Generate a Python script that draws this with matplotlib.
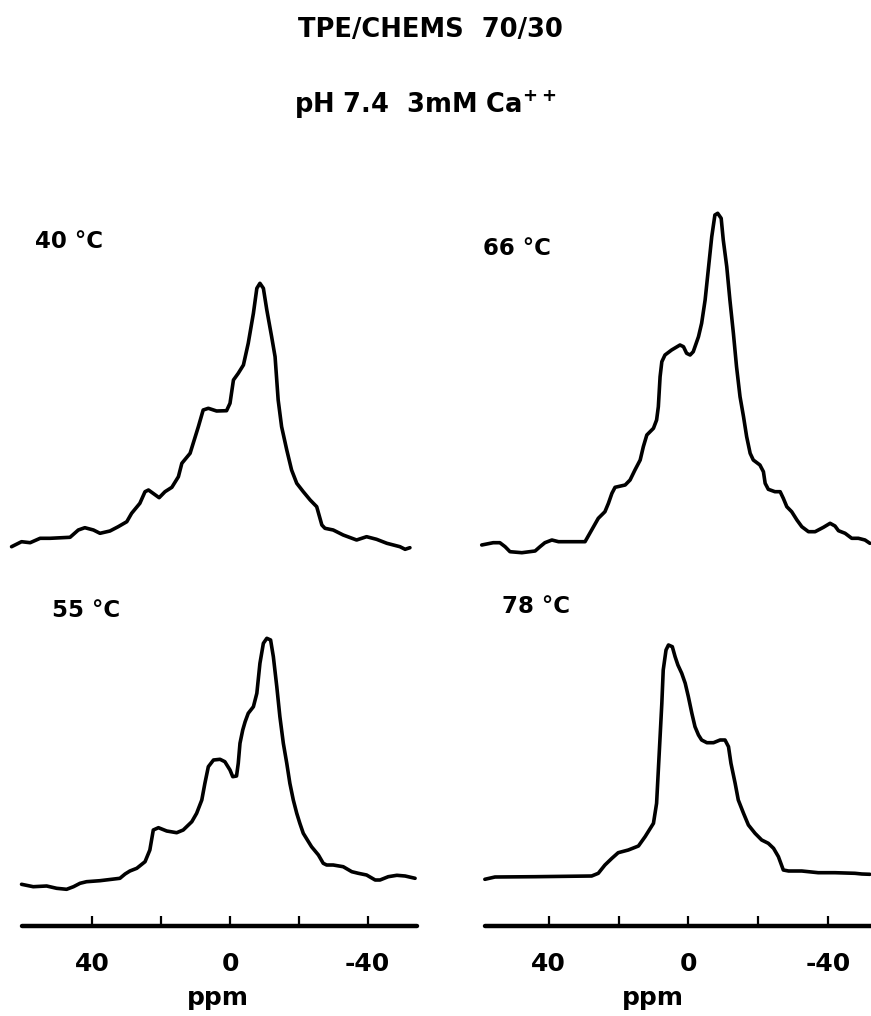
import numpy as np
import matplotlib.pyplot as plt

# 31P NMR spectra: chemical shift (ppm) and intensity (arb. units)
ppm_40 = [63.5, 60.6, 58.1, 55.2, 52.3, 46.5, 44.1, 42.2, 39.7, 37.8, 34.9, 32.5, 30.0, 28.6,
          26.2, 24.7, 23.7, 20.6, 18.9, 16.9, 15.0, 14.0, 11.6, 10.7, 9.2, 7.8, 6.3, 3.9, 1.0,
          0.0, -1.0, -2.4, -3.9, -5.3, -6.8, -7.8, -8.7, -9.7, -10.7, -12.1, -13.1, -14.0,
          -15.0, -16.5, -17.9, -19.4, -21.3, -23.3, -25.2, -26.7, -27.6, -30.0, -32.9, -36.8,
          -39.7, -42.6, -45.6, -49.4, -50.9, -52.3]
int_40 = [13.3, 18.3, 17.3, 21.7, 21.7, 22.7, 30, 32.3, 30, 26.7, 29, 33.3, 38.3, 46.7,
          56.7, 68.3, 70, 62.3, 68.3, 72.7, 83.3, 96.7, 106.7, 116.7, 133.3, 150, 151.7, 149,
          149.3, 156.7, 180, 186.7, 195, 216.7, 246.7, 271.7, 276.7, 271.7, 250, 223.3, 203.3,
          160, 133.3, 110, 90, 76.7, 68.3, 60, 53.3, 35, 31.7, 30, 25, 20,
          23.3, 20.7, 16.7, 13.3, 10.7, 12.3]

ppm_66 = [59.2, 55.9, 54.0, 52.5, 51.1, 47.7, 43.9, 42.5, 41.1, 39.1, 37.2, 29.6, 27.7, 25.8,
          23.9, 22.9, 21.9, 21.0, 18.1, 16.7, 15.3, 13.8, 12.9, 11.9, 10.0, 9.1, 8.6, 8.1, 7.6,
          6.7, 4.8, 2.4, 1.4, 0.5, -0.5, -1.4, -2.9, -3.8, -4.8, -5.7, -6.7, -7.6, -8.4, -9.4,
          -10.0, -11.0, -11.9, -12.9, -13.8, -14.8, -15.8, -16.7, -17.7, -18.6, -20.5, -21.5,
          -22.0, -22.9, -24.8, -26.3, -27.2, -28.2, -29.6, -31.1, -32.5, -34.4, -36.3, -38.7,
          -40.6, -42.0, -43.0, -44.9, -46.8, -48.7, -50.6, -52.0]
int_66 = [15, 17.3, 17.3, 13.3, 8.3, 7.3, 9, 13.3, 17.3, 20, 18.3, 18.3, 30, 41.7,
          48.3, 56.7, 66.7, 72.7, 75, 80, 90, 100, 113.3, 125, 131.7, 140, 153.3, 183.3, 198.3,
          205, 210, 215, 213.3, 206.7, 205, 208.3, 223.3, 236.7, 260, 290, 323.3, 345, 346.7, 341.7,
          320, 293.3, 260, 226.7, 193.3, 163.3, 143.3, 123.3, 106.7, 100, 95, 88.3,
          76.7, 70.7, 68.3, 68.3, 61.7, 53.3, 48.3, 40, 33.3, 28.3, 28.3, 32.7,
          36.7, 34, 29.3, 26.7, 21.7, 21.7, 20, 16.7]

ppm_55 = [60.6, 57.2, 53.3, 50.4, 47.5, 45.5, 43.6, 41.7, 37.8, 32.0, 30.5, 29.1, 27.1, 24.7,
          23.3, 22.3, 20.8, 18.4, 15.5, 13.6, 11.1, 9.7, 8.2, 7.3, 6.3, 4.8, 2.9, 1.5, 0.0,
          -0.8, -1.9, -2.4, -2.9, -3.7, -4.4, -5.3, -6.8, -7.8, -8.7, -9.7, -10.7, -11.8, -12.6,
          -13.6, -14.5, -15.5, -16.5, -17.4, -18.4, -19.4, -20.3, -21.3, -22.8, -23.7, -25.7,
          -27.1, -28.1, -30.0, -32.9, -35.4, -37.3, -39.7, -42.2, -43.6, -46.0, -48.5, -50.9, -53.8]
int_55 = [41.7, 39.3, 40, 37.7, 36.7, 39.3, 42.7, 44.3, 45.3, 47.7, 52, 55, 57.7, 64.3,
          76, 96, 98.3, 95, 93.3, 96, 104.3, 112.7, 126, 142.7, 159.3, 166, 166.7, 164.3, 156,
          149.3, 150, 162.7, 182.7, 196, 204.3, 212.7, 219.3, 232.7, 262.7, 282.7, 287.7, 286, 269.3,
          239.3, 209.3, 182.7, 162.7, 142.7, 126, 112.7, 102.7, 92.7, 84.3, 79.3, 71,
          62.7, 61, 61, 59.3, 54.3, 52.7, 51, 46, 46, 49.3, 50.7, 50, 47.7]

ppm_78 = [58.3, 55.4, 43.9, 27.7, 25.8, 23.9, 21.9, 20.1, 17.2, 14.3, 12.4, 10.0, 9.1, 8.6,
          8.1, 7.6, 7.2, 6.4, 5.7, 4.6, 3.8, 3.0, 1.9, 0.9, 0.0, -1.0, -1.9, -2.9, -3.8, -5.3,
          -7.2, -9.1, -10.5, -11.5, -12.2, -13.4, -14.3, -15.8, -17.2, -19.1, -21.0, -22.9,
          -24.4, -25.8, -27.2, -28.7, -32.5, -37.2, -42.0, -47.7, -49.7, -52.0]
int_78 = [46.7, 49, 49.3, 50, 52.7, 61, 67.7, 73.3, 76, 80, 89.3, 102.7, 122.7, 156,
          189.3, 222.7, 256, 276, 281, 279.3, 269.3, 261, 252.7, 242.7, 229.3, 212.7, 199.3, 191, 186, 183.3,
          183.3, 186, 186, 179.3, 162.7, 142.7, 126, 112.7, 101, 92.7, 86, 82.7,
          77.7, 69.3, 56, 55, 55, 53.3, 53.3, 52.7, 52, 51.7]

temps = ["40 °C", "66 °C", "55 °C", "78 °C"]
ticks = [40, 20, 0, -20, -40]
tick_labels = ["40", "", "0", "", "-40"]

plt.rcParams['font.family'] = 'DejaVu Sans'
plt.rcParams['font.weight'] = 'bold'

W, H = 871, 1016
fig = plt.figure(figsize=(W / 100, H / 100), dpi=100)


def px_axes(x0, y0, x1, y1):
    # axes rectangle given in pixel coords (origin top-left)
    return fig.add_axes([x0 / W, 1 - y1 / H, (x1 - x0) / W, (y1 - y0) / H])


cols = {"L": (0, 435, (66.86, -59.59), (60.6, -54.3)),
        "R": (435, 871, (72.58, -52.32), (58.3, -53.5))}
panels = [(ppm_40, int_40, "L", 180, 560, temps[0], (35, 248)),
          (ppm_66, int_66, "R", 180, 560, temps[1], (483, 255)),
          (ppm_55, int_55, "L", 560, 926, temps[2], (52, 617)),
          (ppm_78, int_78, "R", 560, 926, temps[3], (502, 613))]

for ppm, inten, c, ytop, ybot, label, (tx, ty) in panels:
    x0, x1, xlim, bounds = cols[c]
    ax = px_axes(x0, ytop, x1, ybot)
    ax.plot(ppm, inten, color='black', lw=2.6, solid_capstyle='round', solid_joinstyle='round')
    ax.set_xlim(*xlim)
    ax.set_ylim(0, ybot - ytop)
    ax.patch.set_visible(False)
    for s in ['top', 'left', 'right']:
        ax.spines[s].set_visible(False)
    ax.set_yticks([])
    if ybot < 900:
        ax.spines['bottom'].set_visible(False)
        ax.set_xticks([])
    else:
        sp = ax.spines['bottom']
        sp.set_linewidth(3.2)
        sp.set_capstyle('round')
        sp.set_bounds(*bounds)
        ax.set_xticks(ticks)
        ax.set_xticklabels(tick_labels)
        ax.tick_params(axis='x', direction='in', length=7, width=1.6, pad=19,
                       labelsize=18)
        ax.set_xlabel("ppm", fontsize=18, fontweight='bold', labelpad=7)
    fig.text(tx / W, 1 - ty / H, label, fontsize=16.5, fontweight='bold',
             ha='left', va='baseline')

fig.text(430 / W, 1 - 37 / H, "TPE/CHEMS  70/30", fontsize=18.5, fontweight='bold',
         ha='center', va='baseline')
fig.text(425 / W, 1 - 113 / H, r"pH 7.4  3mM Ca$^{\mathbf{++}}$", fontsize=18.5,
         fontweight='bold', ha='center', va='baseline')

fig.savefig("out.png", dpi=100, facecolor='white')
